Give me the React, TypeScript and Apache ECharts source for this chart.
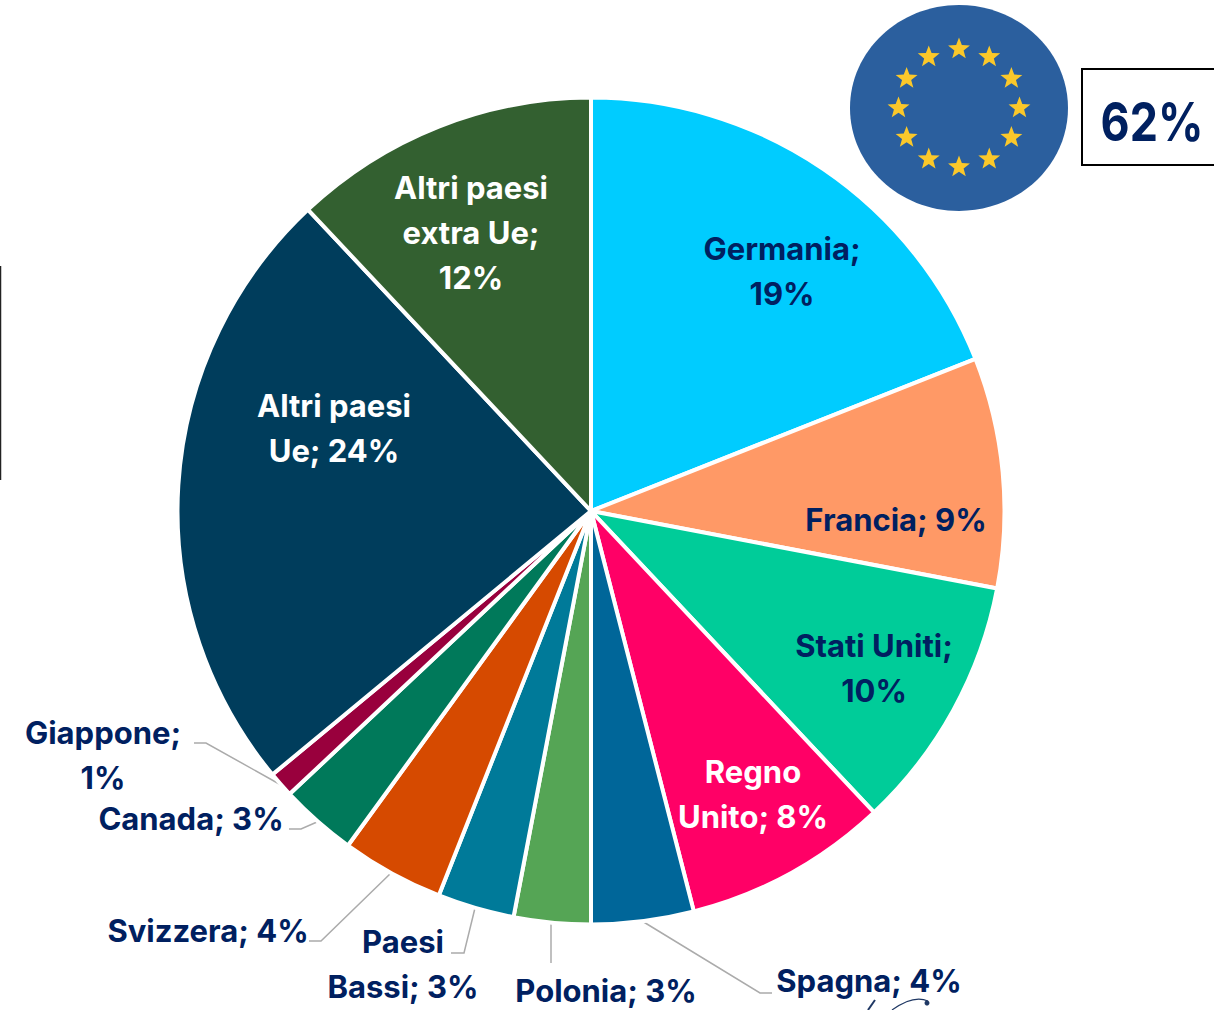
import React, { useEffect, useRef } from "react";
import * as echarts from "echarts";

const categories = ["Germania", "Francia", "Stati Uniti", "Regno Unito", "Spagna", "Polonia", "Paesi Bassi", "Svizzera", "Canada", "Giappone", "Altri paesi Ue", "Altri paesi extra Ue"];
const values = [19, 9, 10, 8, 4, 3, 3, 4, 3, 1, 24, 12];
const colors = ["#00CCFF", "#FF9966", "#00CC99", "#FF0066", "#006699", "#55A555", "#007A99", "#D64A00", "#00795A", "#99003D", "#003D5C", "#336030"];
const labelTexts = ["Germania;\n19%", "Francia; 9%", "Stati Uniti;\n10%", "Regno\nUnito; 8%", "Spagna; 4%", "Polonia; 3%", "Paesi\nBassi; 3%", "Svizzera; 4%", "Canada; 3%", "Giappone;\n1%", "Altri paesi\nUe; 24%", "Altri paesi\nextra Ue;\n12%"];
const labelColors = ["#002060", "#002060", "#002060", "#FFFFFF", "#002060", "#002060", "#002060", "#002060", "#002060", "#002060", "#FFFFFF", "#FFFFFF"];
const labelCenters: [number, number][] = [[782, 271], [896, 519], [874, 668], [753, 794], [869, 980], [606, 990], [403, 964], [208, 930], [191, 818], [103, 755], [334, 428], [471, 232]];
const leaderLines: ([number, number][] | null)[] = [
  null, null, null, null,
  [[642, 921], [760, 993], [772, 993]],
  [[551, 923], [551, 963], [551, 963]],
  [[475, 908], [464, 953], [451, 953]],
  [[391, 873], [321, 941], [309, 941]],
  [[317, 822], [301, 829], [289, 829]],
  [[281, 785], [206, 743], [194, 743]],
  null, null,
];
const euStarCount = 12;
const boxLabel = "62%";

function starPoints(cx: number, cy: number, R: number) {
  const pts: number[][] = [];
  for (let i = 0; i < 10; i++) {
    const r = i % 2 === 0 ? R : R * 0.42;
    const a = -Math.PI / 2 + (i * Math.PI) / 5;
    pts.push([cx + r * Math.cos(a), cy + r * Math.sin(a)]);
  }
  return pts;
}

export default function App() {
  const ref = useRef<HTMLDivElement>(null);
  useEffect(() => {
    document.body.style.margin = "0";
    const chart = echarts.init(ref.current!, undefined, { renderer: "svg" });
    const font = "Inter, sans-serif";
    const stars = [];
    for (let i = 0; i < euStarCount; i++) {
      const a = (i * Math.PI) / 6;
      stars.push({
        type: "polygon",
        shape: { points: starPoints(959 + 60.5 * Math.sin(a), 108 - 59 * Math.cos(a), 11.5) },
        style: { fill: "#FBC82A" },
      });
    }
    chart.setOption({
      animation: false,
      backgroundColor: "#FFFFFF",
      graphic: [
        { type: "ellipse", shape: { cx: 959, cy: 108, rx: 109, ry: 103 }, style: { fill: "#2B5F9E" } },
        ...stars,
        { type: "rect", shape: { x: 1082, y: 69, width: 134, height: 96 }, style: { fill: "#FFFFFF", stroke: "#000000", lineWidth: 2 } },
        { type: "text", x: 1152, y: 121, scaleX: 0.83, style: { text: boxLabel, fill: "#002060", font: `700 54px ${font}`, align: "center", verticalAlign: "middle" } },
        { type: "line", shape: { x1: 0.5, y1: 266, x2: 0.5, y2: 480 }, style: { stroke: "#222222", lineWidth: 1.5 } },
        { type: "line", shape: { x1: 875, y1: 1000, x2: 868, y2: 1010 }, style: { stroke: "#1F3864", lineWidth: 2 } },
        { type: "bezierCurve", shape: { x1: 892, y1: 1010, cpx1: 903, cpy1: 1002, cpx2: 917, cpy2: 996, x2: 928, y2: 1001 }, style: { stroke: "#1F3864", lineWidth: 1.2, fill: "none" } },
        { type: "circle", shape: { cx: 927, cy: 1003, r: 2.5 }, style: { fill: "#1F3864" } },
      ],
      series: [
        {
          type: "pie",
          center: [591, 511],
          radius: [0, 413.5],
          startAngle: 90,
          clockwise: true,
          avoidLabelOverlap: false,
          itemStyle: { borderColor: "#FFFFFF", borderWidth: 4 },
          emphasis: { disabled: true },
          data: categories.map((name, i) => ({
            name,
            value: values[i],
            itemStyle: { color: colors[i] },
            label: {
              show: true,
              position: leaderLines[i] ? "outside" : "inside",
              formatter: labelTexts[i],
              color: labelColors[i],
              fontFamily: font,
              fontWeight: 700,
              fontSize: 31,
              lineHeight: 45,
              align: "center",
            },
            labelLine: {
              show: !!leaderLines[i],
              lineStyle: { color: "#ABABAB", width: 1.5 },
            },
          })),
          labelLayout: (p: any) => {
            const i = p.dataIndex;
            return {
              x: labelCenters[i][0],
              y: labelCenters[i][1],
              align: "center",
              verticalAlign: "middle",
              labelLinePoints: leaderLines[i] || undefined,
            };
          },
        },
      ],
    });
    return () => chart.dispose();
  }, []);
  return <div ref={ref} style={{ position: "absolute", left: 0, top: 0, width: 1214, height: 1010, overflow: "hidden" }} />;
}
